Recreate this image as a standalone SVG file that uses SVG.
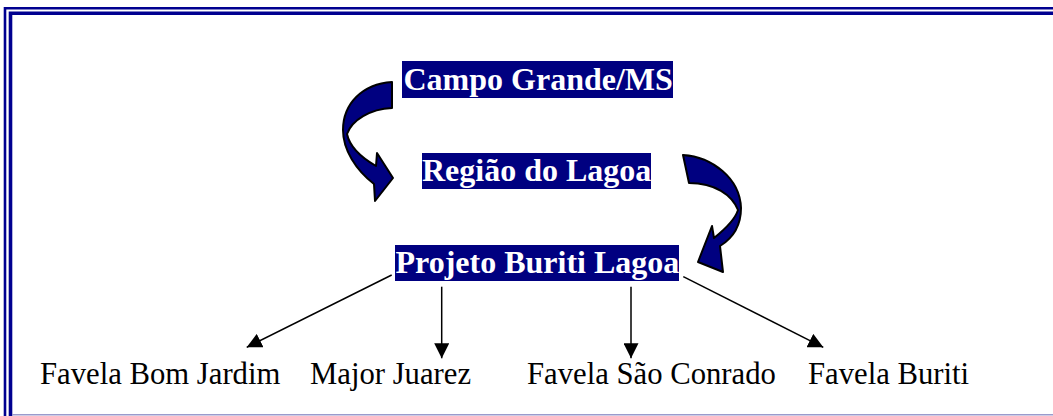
<svg xmlns="http://www.w3.org/2000/svg" width="1053" height="416" viewBox="0 0 1053 416">
<defs>
<style>
.box{fill:#000080}
.title{font-family:"Liberation Serif","Times New Roman",serif;font-weight:bold;font-size:32px;fill:#ffffff}
.leaf{font-family:"Liberation Serif","Times New Roman",serif;font-size:30.7px;fill:#000000}
.conn{stroke:#000000;stroke-width:1.5;fill:none;marker-end:url(#ah)}
.curve{fill:#000080;stroke:#000000;stroke-width:2;stroke-linejoin:round}
</style>
<marker id="ah" viewBox="0 0 10 10" refX="10" refY="5" markerWidth="10" markerHeight="10" markerUnits="userSpaceOnUse" orient="auto">
<path d="M0,0 L10,5 L0,10 Z" fill="#000000"/>
</marker>
<marker id="ah2" viewBox="0 0 10 10" refX="10" refY="5" markerWidth="15" markerHeight="15" markerUnits="userSpaceOnUse" orient="auto">
<path d="M0,0 L10,5 L0,10 Z" fill="#000000"/>
</marker>
</defs>
<rect width="1053" height="416" fill="#ffffff"/>
<g id="frame">
<polyline points="5,416 5,8.3 1053,8.3" fill="none" stroke="#000090" stroke-width="2.6"/>
<polyline points="10.5,416 10.5,13.3 1053,13.3" fill="none" stroke="#000090" stroke-width="3.6"/>
<line x1="12" y1="414.8" x2="1053" y2="414.8" stroke="#9a9acc" stroke-width="1.6"/>
</g>
<g id="node-campo">
<rect class="box" x="402" y="61" width="271" height="37"/>
<text class="title" x="403.5" y="89.5">Campo Grande/MS</text>
</g>
<g id="node-regiao">
<rect class="box" x="422" y="153" width="229" height="36"/>
<text class="title" x="422" y="181">Região do Lagoa</text>
</g>
<g id="node-projeto">
<rect class="box" x="395" y="245" width="284" height="36"/>
<text class="title" x="395.5" y="273">Projeto Buriti Lagoa</text>
</g>
<g id="node-bomjardim"><text class="leaf" x="40" y="384">Favela Bom Jardim</text></g>
<g id="node-major"><text class="leaf" x="310" y="384">Major Juarez</text></g>
<g id="node-saoconrado"><text class="leaf" x="527" y="384">Favela São Conrado</text></g>
<g id="node-buriti"><text class="leaf" x="808" y="384">Favela Buriti</text></g>
<g id="connectors">
<path class="curve" d="M392,82 C362,84 343,104 343,130 C343,150 356,170 374,184 L375,201 L393,178 L377,153 L376,166 C362,158 350,148 347,134 C352,120 370,109 392,108 Z"/>
<path class="curve" d="M683,155 C712,157 740,178 741,208 C741,225 733,238 720,246 L723,272 L698,262 L712,226 L714,238 C724,230 735,220 738,210 C732,195 715,183 689,183 Z"/>
<line class="conn" style="marker-end:url(#ah2)" x1="391.7" y1="275" x2="246.7" y2="347.3"/>
<line class="conn" style="marker-end:url(#ah2)" x1="441.7" y1="286.7" x2="441.7" y2="358.3"/>
<line class="conn" style="marker-end:url(#ah2)" x1="631" y1="286.7" x2="631" y2="358.3"/>
<line class="conn" style="marker-end:url(#ah2)" x1="683.3" y1="276.7" x2="823.3" y2="347.3"/>
</g>
</svg>
